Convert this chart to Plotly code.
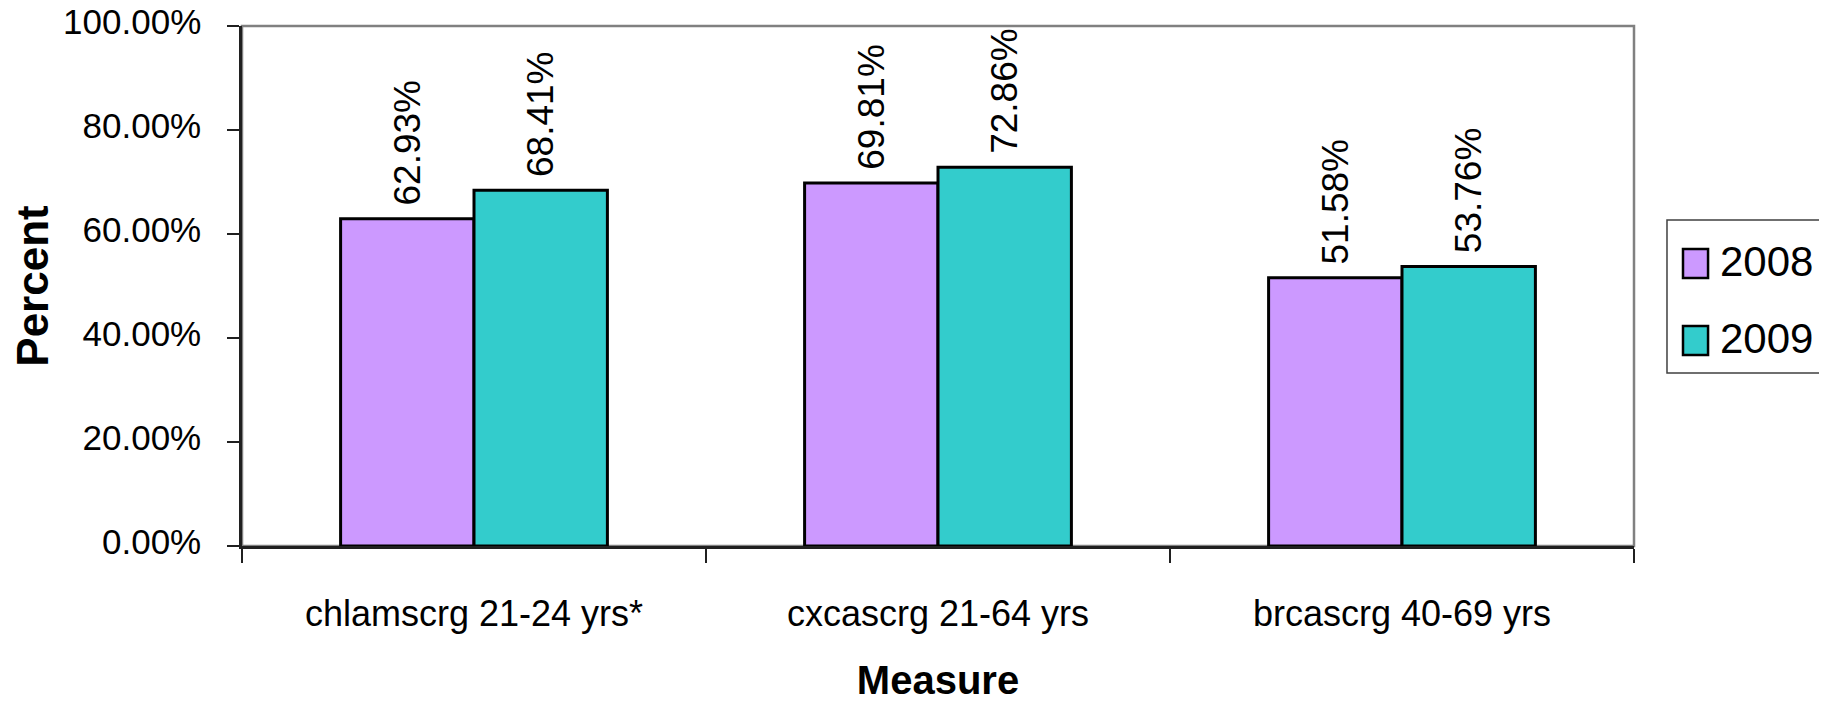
import plotly.graph_objects as go

categories = ["chlamscrg 21-24 yrs*", "cxcascrg 21-64 yrs", "brcascrg 40-69 yrs"]
series_names = ["2008", "2009"]
values_2008 = [0.6293, 0.6981, 0.5158]
values_2009 = [0.6841, 0.7286, 0.5376]
colors = ["#CC99FF", "#33CCCC"]
y_ticks = [0, 0.2, 0.4, 0.6, 0.8, 1.0]

FONT = "Arial, 'Liberation Sans', sans-serif"
NB = "\u00a0"

fig = go.Figure()
for name, vals, col in zip(series_names, [values_2008, values_2009], colors):
    fig.add_trace(go.Bar(
        x=categories, y=vals, name=name,
        marker=dict(color=col, line=dict(color="black", width=3)),
        text=[NB + f"{v*100:.2f}%" for v in vals],
        textposition="outside", textangle=-90, constraintext="none",
        textfont=dict(family=FONT, size=37, color="black"),
        cliponaxis=False, showlegend=False,
    ))

# manual legend (box, swatches, labels)
shapes = [dict(type="rect", xref="x domain", yref="y domain", x0=0, x1=1, y0=0, y1=1,
               line=dict(color="#808080", width=2.5), layer="below"),
          dict(type="rect", xref="paper", yref="paper", x0=1.0237, x1=1.15, y0=0.3327, y1=0.6269,
               line=dict(color="#404040", width=1.5), fillcolor="white")]
annotations = []
sw_y = [(0.5154, 0.5712), (0.3673, 0.4231)]
tx_y = [0.5462, 0.40]
for name, col, (y0, y1), ty in zip(series_names, colors, sw_y, tx_y):
    shapes.append(dict(type="rect", xref="paper", yref="paper", x0=1.0352, x1=1.0532,
                       y0=y0, y1=y1, line=dict(color="black", width=2.5), fillcolor=col))
    annotations.append(dict(text=name, xref="paper", yref="paper", x=1.0605, y=ty,
                            xanchor="left", yanchor="middle", showarrow=False,
                            font=dict(family=FONT, size=42, color="black")))

fig.update_layout(
    width=1811, height=694,
    margin=dict(l=234, r=185, t=18, b=156, autoexpand=False),
    paper_bgcolor="white", plot_bgcolor="white",
    barmode="group", bargap=0.425, bargroupgap=0,
    font=dict(family=FONT, color="black"),
    showlegend=False,
    shapes=shapes, annotations=annotations,
)

fig.update_xaxes(
    type="category", showline=True, linecolor="#202020", linewidth=2.5,
    ticks="outside", tickson="boundaries", ticklen=14, tickwidth=1.5, tickcolor="#202020",
    tickfont=dict(family=FONT, size=36, color="black"),
    ticklabelstandoff=34, automargin=False, ticklabeloverflow="allow",
    title=dict(text="<b>Measure</b>", font=dict(family=FONT, size=40, color="black"), standoff=55),
    showgrid=False, zeroline=False,
)
fig.update_yaxes(
    range=[0, 1], tickvals=y_ticks, tickformat=".2%",
    showline=True, linecolor="#202020", linewidth=2.5,
    ticks="outside", ticklen=12, tickwidth=1.5, tickcolor="#202020",
    tickfont=dict(family=FONT, size=35, color="black"),
    ticklabelstandoff=19, ticklabelshift=-4, automargin=False, ticklabeloverflow="allow",
    title=dict(text="<b>Percent</b>", font=dict(family=FONT, size=44, color="black"), standoff=17),
    showgrid=False, zeroline=False,
)

fig.write_html("out.html")
